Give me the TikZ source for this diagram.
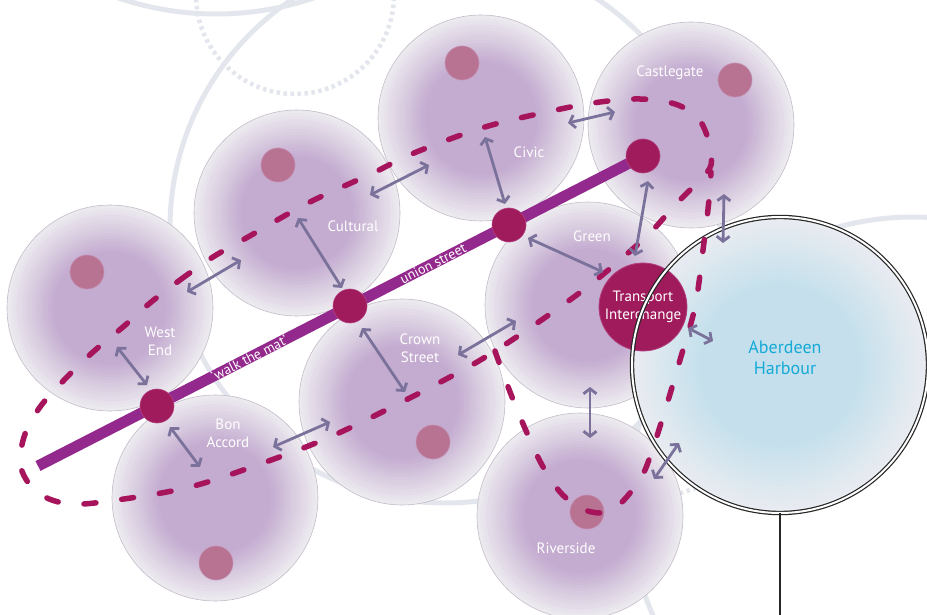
\documentclass[tikz,border=0pt]{standalone}
\usepackage{fontspec}
\setmainfont{PT Sans}
\usetikzlibrary{arrows.meta}

\definecolor{streetcol}{RGB}{148,41,141}
\definecolor{stopcol}{RGB}{160,27,92}
\definecolor{stopedge}{RGB}{178,64,128}
\definecolor{spotcol}{RGB}{183,115,145}
\definecolor{spotedge}{RGB}{196,140,176}
\definecolor{walkcol}{RGB}{166,20,92}
\definecolor{linkcol}{RGB}{122,114,155}
\definecolor{blobmid}{RGB}{196,171,208}
\definecolor{blobout}{RGB}{236,234,239}
\definecolor{blobedge}{RGB}{196,188,202}
\definecolor{harbin}{RGB}{197,224,236}
\definecolor{harbout}{RGB}{233,236,241}
\definecolor{bggrey}{RGB}{227,231,237}
\definecolor{harbourtxt}{RGB}{22,170,215}

\newcommand{\softdisc}[5]{%
	\foreach \k in {0,...,32}{%
		\pgfmathsetmacro{\rr}{#2*(1-\k/33)}%
		\pgfmathtruncatemacro{\mix}{min(100,100*\k/(33*#3))}%
		\fill[#4!\mix!#5] (#1) circle (\rr pt);}}

\begin{document}
\begin{tikzpicture}[x=1pt, y=-1pt,
	blob/.style={circle, inner sep=0pt, outer sep=0pt, minimum size=206pt},
	rim/.style={draw=blobedge, line width=0.6pt},
	spot/.style={circle, inner sep=0pt, minimum size=34pt, fill=spotcol, draw=spotedge, line width=0.6pt},
	stop/.style={circle, inner sep=0pt, minimum size=34pt, fill=stopcol, draw=stopedge, line width=0.6pt},
	hub/.style={circle, inner sep=0pt, minimum size=88pt, fill=stopcol, draw=stopedge, line width=0.8pt, text=white, align=center, font=\fontsize{15pt}{18pt}\selectfont},
	street/.style={draw=streetcol, line width=11pt},
	streetlbl/.style={text=white, inner sep=0pt, font=\fontsize{14pt}{16pt}\selectfont},
	lbl/.style={text=white, align=center, inner sep=0pt, font=\fontsize{15pt}{18pt}\selectfont},
	walk/.style={draw=walkcol, line width=5.5pt, line cap=round, dash pattern=on 12pt off 26pt},
	link/.style={draw=linkcol, line width=2.8pt, {Straight Barb[length=5pt,width=13pt]}-{Straight Barb[length=5pt,width=13pt]}},
	bgarc/.style={draw=bggrey, line width=5pt},
	bgdots/.style={draw=bggrey, line width=4.5pt, dash pattern=on 3.5pt off 3.5pt},
	harbour/.style={circle, inner sep=0pt, outer sep=0pt, minimum size=296pt},
	ring/.style={draw=black!85, double=white, line width=1.2pt, double distance=2pt},
	stem/.style={draw=black!85, line width=2pt}]

	\path[fill=white, use as bounding box] (0,0) rectangle (927,615);
	\clip (0,0) rectangle (927,615);

	\draw[bgarc] (216,-289) circle (303pt);
	\draw[bgdots] (295,-5) circle (99pt);
	\draw[bgarc] (445,228) circle (275pt);
	\draw[bgarc] (913,501) circle (284pt);
	\draw[bgdots] (660,500) -- (720,480);

	\node[blob] (west) at (110,308) {};
	\node[blob] (cultural) at (297,213) {};
	\node[blob] (civic) at (481,118) {};
	\node[blob] (castle) at (691,125) {};
	\node[blob] (green) at (588,305) {};
	\node[blob] (crown) at (402,402) {};
	\node[blob] (bon) at (215,498) {};
	\node[blob] (river) at (580,516) {};
	\foreach \n in {west,cultural,civic,castle,green,crown,bon,river}
		\softdisc{\n.center}{103}{0.45}{blobmid}{blobout};
	\foreach \n in {west,cultural,civic,castle,green,crown,bon,river}
		\draw[rim] (\n.center) circle (103pt);

	\node[harbour] (harbour) at (780,365) {};
	\softdisc{harbour.center}{148}{0.45}{harbin}{harbout};

	\node[spot] (westspot) at (87,272) {};
	\node[spot] (culturalspot) at (278,165) {};
	\node[spot] (civicspot) at (462,63) {};
	\node[spot] (castlespot) at (735,80) {};
	\node[spot] (crownspot) at (433,442) {};
	\node[spot] (bonspot) at (216,563) {};
	\node[spot] (riverspot) at (587,512) {};

	\coordinate (s0) at (38,466);
	\coordinate (s1) at (643,156);
	\path[street] (s0) -- (s1)
		node[streetlbl, sloped, pos=0.349] (mat) {‘walk the mat’}
		node[streetlbl, sloped, pos=0.653] (union) {union street};

	\node[stop] (j1) at (157,406) {};
	\node[stop] (j2) at (350,306) {};
	\node[stop] (j3) at (509,225) {};
	\node[stop] (j4) at (s1) {};
	\node[hub] (ti) at (643,307) {Transport\\Interchange};

	\draw[ring] (harbour.center) circle (148pt);
	\coordinate (pier) at (780,615);
	\draw[stem] (harbour.south) -- (pier);

	\draw[walk] plot[smooth cycle, tension=0.55] coordinates {
		(150,303) (180,280) (213,257) (248,237) (308,203) (373,173) (414,153)
		(485,127) (556,110) (600,102) (640,99) (675,104) (698,118) (709,142)
		(711,165) (700,180) (677,203) (650,233) (620,260) (590,285) (560,307)
		(527,330) (495,351) (463,370) (400,403) (330,437) (263,463) (190,487)
		(117,500) (70,504) (38,493) (21,468) (24,437) (40,407) (67,377)
		(93,352) (123,327)};
	\draw[walk] plot[smooth, tension=0.55] coordinates {
		(495,351) (500,365) (512,397) (527,433) (542,465) (560,492) (580,508)
		(600,513) (615,508) (630,493) (645,470) (663,417) (680,360) (695,307)
		(703,250) (709,200) (711,172)};

	\coordinate (a1) at (117,347);  \coordinate (b1) at (147,385);
	\coordinate (a2) at (170,427);  \coordinate (b2) at (200,467);
	\coordinate (a3) at (187,292);  \coordinate (b3) at (241,260);
	\coordinate (a4) at (298,218);  \coordinate (b4) at (342,288);
	\coordinate (a5) at (370,195);  \coordinate (b5) at (429,165);
	\coordinate (a6) at (485,137);  \coordinate (b6) at (505,204);
	\coordinate (a7) at (568,123);  \coordinate (b7) at (615,112);
	\coordinate (a8) at (362,328);  \coordinate (b8) at (405,392);
	\coordinate (a9) at (273,447);  \coordinate (b9) at (330,422);
	\coordinate (a10) at (458,355); \coordinate (b10) at (516,321);
	\coordinate (a11) at (528,238); \coordinate (b11) at (603,272);
	\coordinate (a12) at (648,181); \coordinate (b12) at (635,256);
	\coordinate (a13) at (724,194); \coordinate (b13) at (723,243);
	\coordinate (a14) at (688,328); \coordinate (b14) at (713,341);
	\coordinate (a15) at (590,387); \coordinate (b15) at (590,438);
	\coordinate (a16) at (654,479); \coordinate (b16) at (679,443);

	\path
	(a1) edge[link] (b1)
	(a2) edge[link] (b2)
	(a3) edge[link] (b3)
	(a4) edge[link] (b4)
	(a5) edge[link] (b5)
	(a6) edge[link] (b6)
	(a7) edge[link] (b7)
	(a8) edge[link] (b8)
	(a9) edge[link] (b9)
	(a10) edge[link] (b10)
	(a11) edge[link] (b11)
	(a12) edge[link] (b12)
	(a13) edge[link] (b13)
	(a14) edge[link] (b14)
	(a15) edge[link] (b15)
	(a16) edge[link] (b16);

	\node[lbl] (westlbl) at (160,341) {West\\End};
	\node[lbl] (culturallbl) at (353,226) {Cultural};
	\node[lbl] (civiclbl) at (529,152) {Civic};
	\node[lbl] (castlelbl) at (670,73) {Castlegate};
	\node[lbl] (greenlbl) at (592,236) {Green};
	\node[lbl] (crownlbl) at (420,348) {Crown\\Street};
	\node[lbl] (bonlbl) at (228,433) {Bon\\Accord};
	\node[lbl] (riverlbl) at (566,548) {Riverside};
	\node[lbl, text=harbourtxt, font=\fontsize{18pt}{21pt}\selectfont] (harbourlbl) at (785,358) {Aberdeen\\Harbour};

\end{tikzpicture}
\end{document}
